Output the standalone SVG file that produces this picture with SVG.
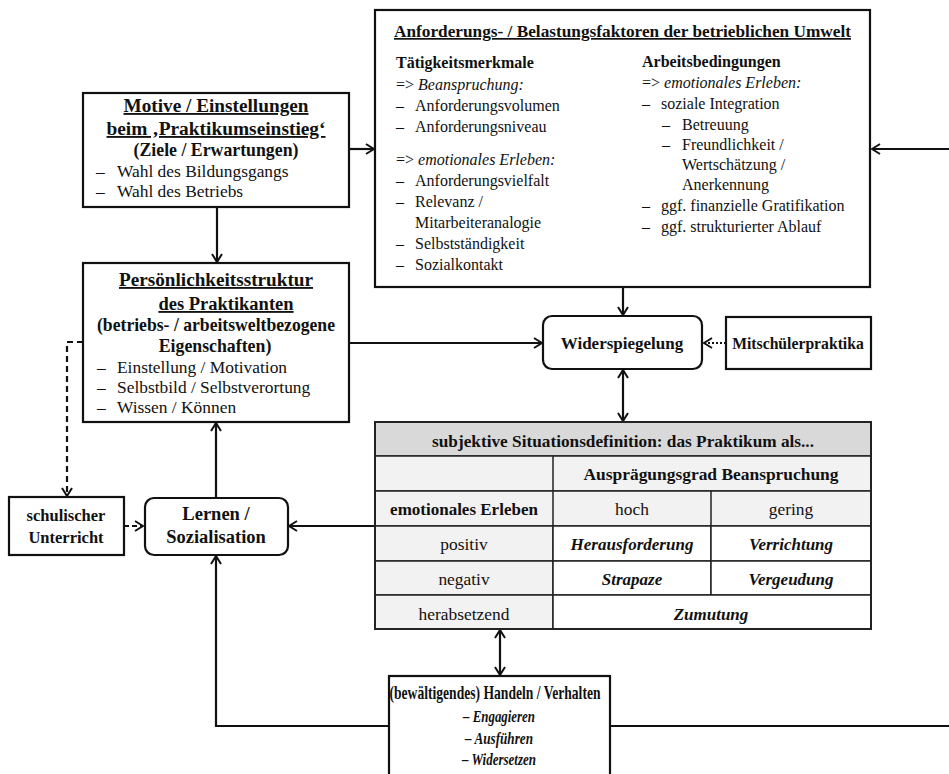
<svg xmlns="http://www.w3.org/2000/svg" width="949" height="774" viewBox="0 0 949 774" font-family="'Liberation Serif','Times New Roman',serif">
<style>
text{font-family:"Liberation Serif","Times New Roman",serif;fill:#111;}
.box{fill:#fff;stroke:#111;stroke-width:2.2;}
.b{font-weight:bold;}
.i{font-style:italic;}
.u{text-decoration:underline;}
.m{text-anchor:middle;}
.r16{font-size:16px;}
.r17{font-size:17.4px;}
.ln{fill:none;stroke:#111;stroke-width:2.2;}
.cell{stroke:#222;stroke-width:1.5;}
</style>
<defs>
<marker id="ah" viewBox="0 0 10 12" refX="9" refY="6" markerWidth="10" markerHeight="12" markerUnits="userSpaceOnUse" orient="auto-start-reverse">
<path d="M1,1 L9,6 L1,11" fill="none" stroke="#111" stroke-width="2"/>
</marker>
</defs>

<g id="connectors">
<line class="ln" x1="349" y1="149" x2="374" y2="149" marker-end="url(#ah)"/>
<line class="ln" x1="949" y1="149" x2="872" y2="149" marker-end="url(#ah)"/>
<line class="ln" x1="217" y1="207" x2="217" y2="262" marker-end="url(#ah)"/>
<line class="ln" x1="623" y1="287" x2="623" y2="315" marker-end="url(#ah)"/>
<line class="ln" x1="349" y1="343" x2="542" y2="343" marker-end="url(#ah)"/>
<line class="ln" x1="726" y1="343" x2="704" y2="343" stroke-dasharray="2,2" marker-end="url(#ah)"/>
<line class="ln" x1="623" y1="370" x2="623" y2="421" marker-start="url(#ah)" marker-end="url(#ah)"/>
<polyline class="ln" points="83,342 67,342 67,496" stroke-dasharray="6,4" marker-end="url(#ah)"/>
<line class="ln" x1="124" y1="526" x2="143" y2="526" stroke-dasharray="5,3" marker-end="url(#ah)"/>
<line class="ln" x1="216" y1="498" x2="216" y2="423" marker-end="url(#ah)"/>
<line class="ln" x1="375" y1="526" x2="289" y2="526" marker-end="url(#ah)"/>
<line class="ln" x1="500" y1="630" x2="500" y2="675" marker-start="url(#ah)" marker-end="url(#ah)"/>
<polyline class="ln" points="389,726 216,726 216,556" marker-end="url(#ah)"/>
<line class="ln" x1="610" y1="726" x2="950" y2="726"/>
</g>

<g id="umwelt">
<rect class="box" x="375" y="10" width="495" height="277"/>
<text class="b u" x="394" y="37" font-size="17px" textLength="457" lengthAdjust="spacingAndGlyphs">Anforderungs- / Belastungsfaktoren der betrieblichen Umwelt</text>
<g class="r16">
<text class="b" x="396" y="68">Tätigkeitsmerkmale</text>
<text x="396" y="90">=&gt; <tspan class="i">Beanspruchung:</tspan></text>
<text x="396" y="111">–</text><text x="415" y="111">Anforderungsvolumen</text>
<text x="396" y="132">–</text><text x="415" y="132">Anforderungsniveau</text>
<text x="396" y="165">=&gt; <tspan class="i">emotionales Erleben:</tspan></text>
<text x="396" y="186">–</text><text x="415" y="186">Anforderungsvielfalt</text>
<text x="396" y="207">–</text><text x="415" y="207">Relevanz /</text>
<text x="415" y="228">Mitarbeiteranalogie</text>
<text x="396" y="249">–</text><text x="415" y="249">Selbstständigkeit</text>
<text x="396" y="270">–</text><text x="415" y="270">Sozialkontakt</text>

<text class="b" x="642" y="67">Arbeitsbedingungen</text>
<text x="642" y="88">=&gt; <tspan class="i">emotionales Erleben:</tspan></text>
<text x="642" y="109">–</text><text x="661" y="109">soziale Integration</text>
<text x="662" y="130">–</text><text x="682" y="130">Betreuung</text>
<text x="662" y="150">–</text><text x="682" y="150">Freundlichkeit /</text>
<text x="682" y="170">Wertschätzung /</text>
<text x="682" y="190">Anerkennung</text>
<text x="642" y="211">–</text><text x="661" y="211">ggf. finanzielle Gratifikation</text>
<text x="642" y="232">–</text><text x="661" y="232">ggf. strukturierter Ablauf</text>
</g>
</g>

<g id="motive">
<rect class="box" x="83" y="93" width="266" height="114"/>
<text class="b u m" x="216" y="112" font-size="18.5px" textLength="185" lengthAdjust="spacingAndGlyphs">Motive / Einstellungen</text>
<text class="b u m" x="216" y="135" font-size="18.5px" textLength="219" lengthAdjust="spacingAndGlyphs">beim ‚Praktikumseinstieg‘</text>
<text class="b m" x="216" y="156" font-size="17.8px">(Ziele / Erwartungen)</text>
<text class="r17" x="96" y="177">–</text><text class="r17" x="117" y="177">Wahl des Bildungsgangs</text>
<text class="r17" x="96" y="197">–</text><text class="r17" x="117" y="197">Wahl des Betriebs</text>
</g>

<g id="persoenlichkeit">
<rect class="box" x="83" y="263" width="266" height="159"/>
<text class="b u m" x="216" y="286" font-size="18.5px" textLength="194" lengthAdjust="spacingAndGlyphs">Persönlichkeitsstruktur</text>
<text class="b u m" x="226" y="310" font-size="18.5px">des Praktikanten</text>
<text class="b m" x="216" y="331" font-size="17.8px" textLength="238" lengthAdjust="spacingAndGlyphs">(betriebs- / arbeitsweltbezogene</text>
<text class="b m" x="215" y="352" font-size="17.8px">Eigenschaften)</text>
<text class="r17" x="97" y="373">–</text><text class="r17" x="117" y="373">Einstellung / Motivation</text>
<text class="r17" x="97" y="393">–</text><text class="r17" x="117" y="393">Selbstbild / Selbstverortung</text>
<text class="r17" x="97" y="413">–</text><text class="r17" x="117" y="413">Wissen / Können</text>
</g>

<g id="schulischer">
<rect class="box" x="9" y="497" width="115" height="58"/>
<text class="b m" x="66" y="521" font-size="16.5px">schulischer</text>
<text class="b m" x="66" y="543" font-size="16.5px">Unterricht</text>
</g>

<g id="lernen">
<rect class="box" x="145" y="498" width="143" height="57" rx="9"/>
<text class="b m" x="216" y="520" font-size="18.5px">Lernen /</text>
<text class="b m" x="216" y="543" font-size="18.5px">Sozialisation</text>
</g>

<g id="widerspiegelung">
<rect class="box" x="543" y="316" width="159" height="53" rx="9"/>
<text class="b m" x="622" y="349" font-size="17px">Widerspiegelung</text>
</g>

<g id="mitschueler">
<rect class="box" x="726" y="317" width="145" height="52"/>
<text class="b m" x="798" y="349" font-size="15.7px">Mitschülerpraktika</text>
</g>

<g id="situationsdefinition">
<rect x="375" y="422" width="496" height="34" fill="#d9d9d9" class="cell"/>
<rect x="375" y="456" width="496" height="35" fill="#f2f2f2" class="cell"/>
<rect x="375" y="491" width="496" height="35" fill="#f2f2f2" class="cell"/>
<rect x="375" y="526" width="178" height="35" fill="#f2f2f2" class="cell"/>
<rect x="375" y="561" width="178" height="34" fill="#f2f2f2" class="cell"/>
<rect x="375" y="595" width="178" height="34" fill="#f2f2f2" class="cell"/>
<rect x="553" y="526" width="158" height="35" fill="#fff" class="cell"/>
<rect x="711" y="526" width="160" height="35" fill="#fff" class="cell"/>
<rect x="553" y="561" width="158" height="34" fill="#fff" class="cell"/>
<rect x="711" y="561" width="160" height="34" fill="#fff" class="cell"/>
<rect x="553" y="595" width="318" height="34" fill="#fff" class="cell"/>
<line x1="553" y1="456" x2="553" y2="526" class="cell"/>
<line x1="711" y1="491" x2="711" y2="526" class="cell"/>
<rect x="375" y="422" width="496" height="207" fill="none" stroke="#222" stroke-width="2"/>
<text class="b m" x="623" y="447" font-size="17px" textLength="382" lengthAdjust="spacingAndGlyphs">subjektive Situationsdefinition: das Praktikum als...</text>
<text class="b m" x="711" y="480" font-size="17px" textLength="255" lengthAdjust="spacingAndGlyphs">Ausprägungsgrad Beanspruchung</text>
<text class="b m" x="464" y="515" font-size="17px">emotionales Erleben</text>
<text class="m" x="632" y="515" font-size="17.4px">hoch</text>
<text class="m" x="791" y="515" font-size="17.4px">gering</text>
<text class="m" x="464" y="550" font-size="17.4px">positiv</text>
<text class="b i m" x="632" y="550" font-size="17px">Herausforderung</text>
<text class="b i m" x="791" y="550" font-size="17px">Verrichtung</text>
<text class="m" x="464" y="585" font-size="17.4px">negativ</text>
<text class="b i m" x="632" y="585" font-size="17px">Strapaze</text>
<text class="b i m" x="791" y="585" font-size="17px">Vergeudung</text>
<text class="m" x="464" y="620" font-size="17.4px">herabsetzend</text>
<text class="b i m" x="711" y="620" font-size="17px">Zumutung</text>
</g>

<g id="handeln">
<rect class="box" x="389" y="676" width="221" height="110"/>
<text class="b m" x="495" y="699" font-size="19.5px" textLength="211" lengthAdjust="spacingAndGlyphs">(bewältigendes) Handeln / Verhalten</text>
<text class="b i m" x="499" y="722" font-size="17.5px" textLength="72" lengthAdjust="spacingAndGlyphs">–  Engagieren</text>
<text class="b i m" x="499" y="744" font-size="17.5px" textLength="68" lengthAdjust="spacingAndGlyphs">–  Ausführen</text>
<text class="b i m" x="499" y="765" font-size="17.5px" textLength="74" lengthAdjust="spacingAndGlyphs">–  Widersetzen</text>
</g>
</svg>
